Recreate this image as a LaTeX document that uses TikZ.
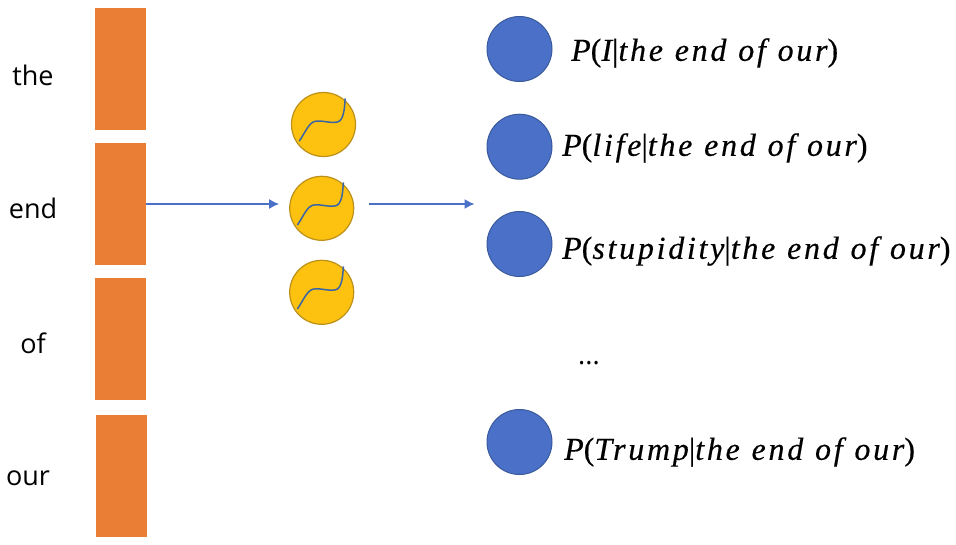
\documentclass[tikz,border=0pt]{standalone}
\usepackage{fontspec}
\setmainfont{Open Sans}
\newfontfamily\probfont[LetterSpace=8.5,WordSpace=1.1,FakeBold=0.4]{Liberation Serif}
\usetikzlibrary{positioning,arrows.meta}
\definecolor{barorange}{HTML}{EA7E35}
\definecolor{hidyellow}{HTML}{FDC110}
\definecolor{hidedge}{HTML}{BC9019}
\definecolor{outblue}{HTML}{4A70C8}
\definecolor{outedge}{HTML}{3A5A9C}
\definecolor{curveblue}{HTML}{3A65A5}
\tikzset{
  bar/.style={fill=barorange,minimum width=51pt,minimum height=122pt,inner sep=0pt},
  word/.style={font=\fontsize{27}{27}\selectfont},
  hidunit/.style={circle,draw=hidedge,line width=1.2pt,fill=hidyellow,minimum size=64pt,inner sep=0pt},
  outunit/.style={circle,draw=outedge,line width=1pt,fill=outblue,minimum size=65pt,inner sep=0pt},
  prob/.style={font=\probfont\itshape\fontsize{32}{32}\selectfont,inner sep=0pt,anchor=west},
  conn/.style={-{Latex[length=10pt,width=10pt]},draw=outblue,line width=1.4pt},
  sigcurve/.style={draw=curveblue,line width=1.5pt}
}
\newcommand{\sigmoid}{(-24.3,16.7) .. controls (-16,4) and (-14,-3.3) .. (-6,-3.5) .. controls (2,-3.6) and (8,-1) .. (14,-2.5) .. controls (20,-4) and (21,-15) .. (21.7,-26)}
\newcommand{\lp}{{\upshape(}}
\newcommand{\rp}{{\upshape)}}
\newcommand{\given}{{\upshape|}}
\begin{document}
\begin{tikzpicture}[x=1pt,y=-1pt]
	\useasboundingbox (0,0) rectangle (956,544);
	% input words
	\node[bar] (bar1) at (120.5,69) {};
	\node[bar] (bar2) at (120.5,204) {};
	\node[bar] (bar3) at (120.5,339) {};
	\node[bar] (bar4) at (121,476) {};
	\node[word] (the) at (33,75) {the};
	\node[word] (end) at (33,208) {end};
	\node[word] (of) at (33,343) {of};
	\node[word] (our) at (28,478) {our};
	% hidden units
	\node[hidunit] (hid1) at (323.5,124.5) {};
	\node[hidunit] (hid2) at (321.7,208.3) {};
	\node[hidunit] (hid3) at (321.7,292.3) {};
	\foreach \h in {hid1,hid2,hid3}
		\draw[sigcurve,shift={(\h.center)}] \sigmoid;
	% outputs
	\node[outunit] (out1) at (519.5,49) {};
	\node[outunit] (out2) at (519.5,146.7) {};
	\node[outunit] (out3) at (519.5,244) {};
	\node[outunit] (out4) at (519.5,442) {};
	\node[prob] (p1) at (571,53) {P\lp I\given the end of our\rp};
	\node[prob] (p2) at (562,148) {P\lp life\given the end of our\rp};
	\node[prob] (p3) at (562,251) {P\lp stupidity\given the end of our\rp};
	\node[prob] (p4) at (564,452) {P\lp Trump\given the end of our\rp};
	\node[word] (dots) at (589,363) {...};
	% arrows
	\draw[conn,shorten >=10pt] (bar2.east) -- (hid2.west |- bar2.east);
	\draw[conn,shorten <=15pt,shorten >=12pt] (hid2.east |- bar2.east) -- (out1.west |- bar2.east);
\end{tikzpicture}
\end{document}
